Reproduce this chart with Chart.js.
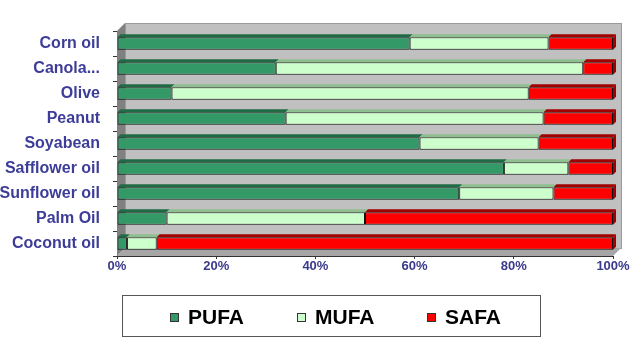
<!DOCTYPE html>
<html>
<head>
<meta charset="utf-8">
<script src="https://cdn.jsdelivr.net/npm/chart.js@4.4.0/dist/chart.umd.min.js"></script>
<style>
  html, body { margin: 0; padding: 0; background: #fff; }
  #wrap { width: 640px; height: 352px; }
</style>
</head>
<body>
<div id="wrap"><canvas id="oilChart" width="640" height="352"></canvas></div>
<script>
Chart.defaults.font.family = 'Arial, "Liberation Sans", sans-serif';

const oils = ['Corn oil', 'Canola...', 'Olive', 'Peanut', 'Soyabean', 'Safflower oil', 'Sunflower oil', 'Palm Oil', 'Coconut oil'];

const pufa = [59, 32, 11, 34, 61, 78, 69, 10, 2];
const mufa = [28, 62, 72, 52, 24, 13, 19, 40, 6];
const safa = [13, 6, 17, 14, 15, 9, 12, 50, 92];

const xTicks = [0, 20, 40, 60, 80, 100];

const depth = 8;

// grey walls behind the bars, plus a darker top face on the bars
const wallsPlugin = {
    id: 'walls',
    beforeDatasetsDraw(chart) {
        const { ctx, chartArea: a } = chart;
        ctx.save();
        ctx.fillStyle = '#c0c0c0';
        ctx.fillRect(a.left + depth, a.top - depth, a.right - a.left, a.bottom - a.top);
        ctx.strokeStyle = '#9a9a9a';
        ctx.lineWidth = 1;
        ctx.strokeRect(a.left + depth + 0.5, a.top - depth + 0.5, a.right - a.left, a.bottom - a.top);
        ctx.fillStyle = '#808080';
        ctx.beginPath();
        ctx.moveTo(a.left, a.top);
        ctx.lineTo(a.left + depth, a.top - depth);
        ctx.lineTo(a.left + depth, a.bottom - depth);
        ctx.lineTo(a.left, a.bottom);
        ctx.closePath();
        ctx.fill();
        ctx.fillStyle = '#a6a6a6';
        ctx.beginPath();
        ctx.moveTo(a.left, a.bottom);
        ctx.lineTo(a.left + depth, a.bottom - depth);
        ctx.lineTo(a.right + depth, a.bottom - depth);
        ctx.lineTo(a.right, a.bottom);
        ctx.closePath();
        ctx.fill();
        ctx.restore();
    },
    afterDatasetsDraw(chart) {
        const { ctx } = chart;
        const d = 3;
        ctx.save();
        chart.data.datasets.forEach((ds, i) => {
            const meta = chart.getDatasetMeta(i);
            meta.data.forEach(bar => {
                const p = bar.getProps(['x', 'y', 'base', 'height'], true);
                const top = p.y - p.height / 2;
                ctx.fillStyle = ds.topColor;
                ctx.beginPath();
                ctx.moveTo(p.base, top);
                ctx.lineTo(p.base + d, top - d);
                ctx.lineTo(p.x + d, top - d);
                ctx.lineTo(p.x, top);
                ctx.closePath();
                ctx.fill();
                if (i === chart.data.datasets.length - 1) {
                    ctx.beginPath();
                    ctx.moveTo(p.x, top);
                    ctx.lineTo(p.x + d, top - d);
                    ctx.lineTo(p.x + d, top + p.height - d);
                    ctx.lineTo(p.x, top + p.height);
                    ctx.closePath();
                    ctx.fill();
                }
            });
        });
        ctx.restore();
    }
};

// legend in a frame under the chart
const legendBoxPlugin = {
    id: 'legendBox',
    afterDraw(chart) {
        const { ctx } = chart;
        ctx.save();
        ctx.strokeStyle = '#555';
        ctx.lineWidth = 1;
        ctx.strokeRect(122.5, 295.5, 418, 41);
        const itemX = [170, 297, 427];
        const cy = 317;
        ctx.font = 'bold 21px Arial, "Liberation Sans", sans-serif';
        ctx.textBaseline = 'middle';
        chart.data.datasets.forEach((ds, i) => {
            ctx.fillStyle = ds.backgroundColor;
            ctx.fillRect(itemX[i], cy - 4, 9, 9);
            ctx.strokeStyle = '#333';
            ctx.strokeRect(itemX[i] + 0.5, cy - 3.5, 8, 8);
            ctx.fillStyle = '#000';
            ctx.fillText(ds.label, itemX[i] + 18, cy + 1);
        });
        ctx.restore();
    }
};

new Chart(document.getElementById('oilChart'), {
    type: 'bar',
    data: {
        labels: oils,
        datasets: [
            { label: 'PUFA', data: pufa, backgroundColor: '#339966', topColor: '#1f6b45' },
            { label: 'MUFA', data: mufa, backgroundColor: '#ccffcc', topColor: '#8fbf8f' },
            { label: 'SAFA', data: safa, backgroundColor: '#ff0000', topColor: '#a00000' }
        ].map(ds => Object.assign(ds, {
            borderColor: '#111',
            borderWidth: 1,
            borderSkipped: false,
            barPercentage: 0.5,
            categoryPercentage: 1
        }))
    },
    options: {
        indexAxis: 'y',
        responsive: false,
        animation: false,
        layout: { padding: { top: 31, right: 27, left: 0, bottom: 79 } },
        plugins: {
            legend: { display: false },
            tooltip: { enabled: true }
        },
        scales: {
            x: {
                stacked: true,
                min: 0,
                max: 100,
                afterBuildTicks(scale) {
                    scale.ticks = xTicks.map(v => ({ value: v }));
                },
                afterFit(scale) { scale.height = 17; },
                ticks: {
                    callback: v => v + '%',
                    color: '#3a3a8c',
                    font: { size: 13, weight: 'bold' },
                    padding: 0
                },
                grid: { drawOnChartArea: false, color: '#333', tickLength: 3 },
                border: { color: '#333' }
            },
            y: {
                stacked: true,
                afterFit(scale) { scale.width = 117; },
                ticks: {
                    color: '#3d3d99',
                    font: { size: 16, weight: 'bold' },
                    padding: 13
                },
                grid: { drawOnChartArea: false, offset: true, color: '#333', tickLength: 4 },
                border: { color: '#333' }
            }
        }
    },
    plugins: [wallsPlugin, legendBoxPlugin]
});
</script>
</body>
</html>
